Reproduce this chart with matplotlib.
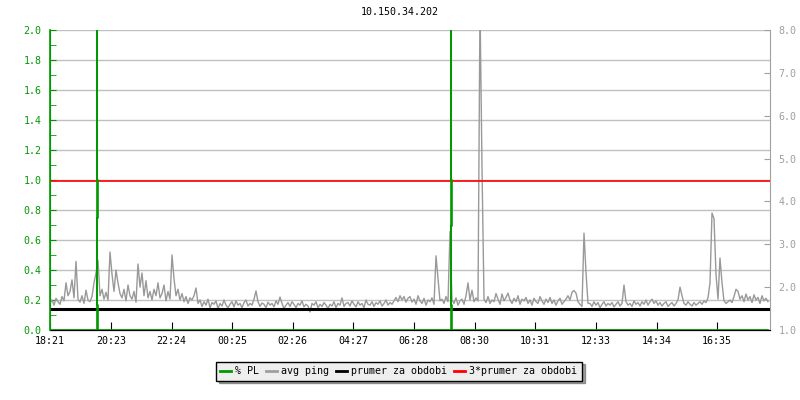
#!/usr/bin/env python3
"""Ping / packet loss chart for 10.150.34.202 over one day."""

import matplotlib

matplotlib.use("Agg")
import matplotlib.pyplot as plt
from matplotlib.lines import Line2D

TITLE = "10.150.34.202"
TICK_LABELS = ["18:21", "20:23", "22:24", "00:25", "02:26", "04:27",
               "06:28", "08:30", "10:31", "12:33", "14:34", "16:35"]
SPAN_MIN = 1440
STEP_MIN = 4

# avg ping in ms, one sample every 4 minutes starting 18:21
PING = [
    1.62, 1.70, 1.58, 1.74, 1.66, 1.60, 1.78, 1.68, 2.10, 1.80,
    1.90, 2.17, 1.75, 2.60, 1.72, 1.65, 1.80, 1.62, 1.93, 1.70,
    1.66, 1.78, 2.10, 2.33, 2.63, 1.80, 1.95, 1.72, 1.88, 1.70,
    2.82, 2.30, 1.90, 2.40, 2.10, 1.85, 1.75, 1.95, 1.68, 2.05,
    1.80, 1.72, 1.90, 1.65, 2.54, 2.00, 2.33, 1.80, 2.15, 1.75,
    1.90, 1.70, 1.95, 1.80, 2.10, 1.75, 1.85, 2.05, 1.68, 1.90,
    1.72, 2.75, 2.20, 1.80, 1.95, 1.70, 1.85, 1.66, 1.78, 1.62,
    1.75, 1.70, 1.80, 1.98, 1.62, 1.70, 1.55, 1.66, 1.58, 1.72,
    1.52, 1.64, 1.60, 1.68, 1.50, 1.62, 1.56, 1.70, 1.58, 1.52,
    1.60, 1.66, 1.54, 1.68, 1.58, 1.62, 1.52, 1.64, 1.70, 1.56,
    1.62, 1.58, 1.72, 1.91, 1.66, 1.55, 1.63, 1.60, 1.52, 1.65,
    1.58, 1.62, 1.54, 1.68, 1.60, 1.77, 1.62, 1.50, 1.58, 1.64,
    1.55, 1.66, 1.60, 1.52, 1.62, 1.58, 1.68, 1.54, 1.60, 1.56,
    1.42, 1.62, 1.58, 1.66, 1.52, 1.60, 1.55, 1.64, 1.58, 1.50,
    1.60, 1.56, 1.66, 1.52, 1.62, 1.58, 1.75, 1.55, 1.62, 1.64,
    1.56, 1.68, 1.60, 1.54, 1.66, 1.58, 1.62, 1.52, 1.70, 1.60,
    1.58, 1.66, 1.55, 1.64, 1.60, 1.68, 1.56, 1.62, 1.70, 1.58,
    1.64, 1.60, 1.68, 1.76, 1.66, 1.80, 1.70, 1.78, 1.65, 1.74,
    1.78, 1.65, 1.72, 1.60, 1.80, 1.68, 1.62, 1.74, 1.58, 1.70,
    1.66, 1.75, 1.60, 2.73, 2.20, 1.68, 1.72, 1.62, 1.78, 1.66,
    3.30, 1.70, 1.62, 1.75, 1.58, 1.68, 1.72, 1.60, 1.80, 2.10,
    1.70, 1.93, 1.66, 1.75, 1.68, 8.60, 4.80, 1.72, 1.64, 1.78,
    1.62, 1.70, 1.66, 1.85, 1.72, 1.60, 1.84, 1.68, 1.76, 1.86,
    1.70, 1.62, 1.74, 1.66, 1.80, 1.60, 1.72, 1.68, 1.76, 1.62,
    1.70, 1.58, 1.74, 1.66, 1.62, 1.78, 1.68, 1.60, 1.72, 1.64,
    1.76, 1.62, 1.70, 1.58, 1.68, 1.74, 1.60, 1.66, 1.72, 1.80,
    1.70, 1.88, 1.92, 1.86, 1.66, 1.60, 1.55, 3.26, 2.35, 1.62,
    1.62, 1.55, 1.66, 1.58, 1.64, 1.52, 1.60, 1.66, 1.56, 1.62,
    1.58, 1.64, 1.54, 1.60, 1.66, 1.56, 1.62, 2.05, 1.66, 1.58,
    1.62, 1.55, 1.68, 1.60, 1.64, 1.56, 1.66, 1.60, 1.70, 1.58,
    1.66, 1.72, 1.62, 1.68, 1.58, 1.64, 1.56, 1.62, 1.66, 1.55,
    1.60, 1.64, 1.56, 1.62, 1.70, 2.00, 1.80, 1.62, 1.58, 1.66,
    1.60, 1.56, 1.64, 1.58, 1.62, 1.66, 1.60, 1.68, 1.64, 1.75,
    2.10, 3.73, 3.60, 2.30, 1.72, 2.68, 2.10, 1.68, 1.62, 1.66,
    1.70, 1.64, 1.78, 1.95, 1.90, 1.72, 1.80, 1.66, 1.84, 1.70,
    1.78, 1.64, 1.82, 1.70, 1.76, 1.62, 1.80, 1.68, 1.74, 1.66,
]

# packet loss (%), sparse samples: minute offset and value
PL_MINUTES = [0, 94, 94, 94, 96, 96, 94, 94, 96, 96, 96,
              802, 802, 802, 804, 804, 802, 802, 804, 804, 804, 1436]
PL_VALUES = [0, 0, 5.0, 1.0, 1.0, 0.75, 0.75, 0.17, 0.17, 0, 0,
             0, 5.0, 1.0, 1.0, 0.69, 0.69, 0.17, 0.17, 0, 0, 0]

MEAN_PING = 1.49

GREEN = "#009900"
GREY = "#a0a0a0"
RED = "#ff0000"
FONT = "DejaVu Sans Mono"
FS = 7.2


def tick_minutes(labels):
    start = int(labels[0][:2]) * 60 + int(labels[0][3:])
    out = []
    for lab in labels:
        m = int(lab[:2]) * 60 + int(lab[3:])
        out.append((m - start) % SPAN_MIN)
    return out


def main():
    plt.rcParams["font.family"] = [FONT, "DejaVu Sans"]
    fig = plt.figure(figsize=(8, 4), dpi=100)
    ax = fig.add_axes([0.0625, 0.175, 0.9, 0.75])
    ax2 = ax.twinx()

    minutes = [i * STEP_MIN for i in range(len(PING))]

    # left axis: packet loss, grid
    ax.set_xlim(0, SPAN_MIN)
    ax.set_ylim(0, 2.0)
    ax.set_yticks([i * 0.2 for i in range(11)])
    ax.set_yticks([0.1 + i * 0.2 for i in range(10)], minor=True)
    ax.set_yticklabels([f"{i * 0.2:.1f}" for i in range(11)])
    ax.grid(axis="y", color="#c0c0c0", linewidth=1)
    ax.set_axisbelow(True)
    ax.tick_params(axis="y", which="both", direction="in", length=4,
                   color=GREEN, labelcolor=GREEN, labelsize=FS, pad=6)

    ax.set_xticks(tick_minutes(TICK_LABELS))
    ax.set_xticklabels(TICK_LABELS)
    ax.tick_params(axis="x", direction="in", length=6, color="black",
                   labelsize=FS, pad=4)

    # right axis: ping
    ax2.set_ylim(1.0, 8.0)
    ax2.set_yticks(range(1, 9))
    ax2.set_yticklabels([f"{v:.1f}" for v in range(1, 9)])
    ax2.tick_params(axis="y", direction="in", length=4, color=GREY,
                    labelcolor=GREY, labelsize=FS, pad=6)

    for a in (ax, ax2):
        a.spines["top"].set_visible(False)
    ax.spines["left"].set_color(GREEN)
    ax.spines["right"].set_visible(False)
    ax2.spines["left"].set_visible(False)
    ax2.spines["right"].set_color(GREY)
    ax2.spines["bottom"].set_color("black")
    ax2.spines["bottom"].set_zorder(6)

    ax2.plot(minutes, PING, color="#999999", linewidth=1.0, zorder=2)
    ax2.axhline(MEAN_PING, color="black", linewidth=2.2, zorder=3)
    ax2.axhline(3 * MEAN_PING, color=RED, linewidth=1.2, zorder=3)
    ax2.plot(PL_MINUTES, [v * 3.5 + 1.0 for v in PL_VALUES], color=GREEN,
             linewidth=1.2, zorder=4)
    ax2.plot([0, 0], [1.0, 8.0], color=GREEN, linewidth=1.2, zorder=7,
             clip_on=False)

    fig.text(0.5, 0.97, TITLE, ha="center", va="center", fontsize=FS,
             family=FONT)

    handles = [
        Line2D([], [], color=GREEN, linewidth=2),
        Line2D([], [], color=GREY, linewidth=2),
        Line2D([], [], color="black", linewidth=2),
        Line2D([], [], color=RED, linewidth=2),
    ]
    labels = ["% PL", "avg ping", "prumer za obdobi", "3*prumer za obdobi"]
    leg = fig.legend(handles, labels, loc="center",
                     bbox_to_anchor=(0.4985, 0.072), ncol=4, frameon=True,
                     fancybox=False, shadow=True, handlelength=1.1,
                     handletextpad=0.4, columnspacing=0.7, borderpad=0.45,
                     prop={"family": FONT, "size": FS})
    leg.get_frame().set_facecolor("#eeeeee")
    leg.get_frame().set_edgecolor("black")
    leg.get_frame().set_linewidth(1.0)

    fig.savefig("out.png", dpi=100)
    plt.close(fig)


if __name__ == "__main__":
    main()
